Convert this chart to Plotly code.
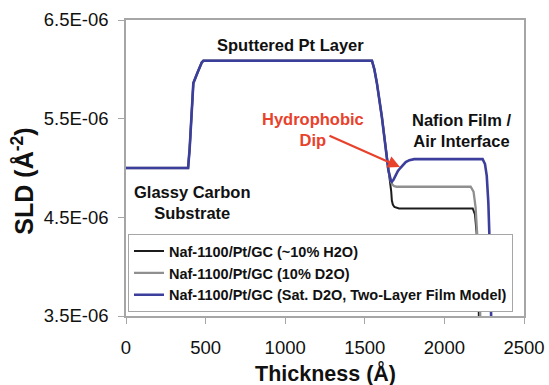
import plotly.graph_objects as go

# ---- data (thickness in Å, SLD in units of 1e-6 Å^-2) ----
thick_h2o = [0, 390, 400, 413, 423, 450, 476, 486, 1545, 1560, 1576, 1607, 1635, 1648, 1660,
             1666, 1670, 1676, 1686, 1700, 1715, 2178, 2192, 2202, 2209, 2214, 2217, 2220]
sld_h2o = [5.00, 5.00, 5.20, 5.52, 5.86, 5.97, 6.07, 6.087, 6.087, 6.00, 5.86, 5.52, 5.18, 4.98, 4.88,
           4.76, 4.67, 4.63, 4.605, 4.595, 4.59, 4.59, 4.53, 4.35, 4.05, 3.70, 3.45, 3.30]

thick_d2o = [0, 390, 400, 413, 423, 450, 476, 486, 1545, 1560, 1576, 1607, 1635, 1648, 1664,
             1672, 1685, 1700, 2165, 2183, 2196, 2207, 2216, 2224, 2230]
sld_d2o = [5.00, 5.00, 5.20, 5.52, 5.86, 5.97, 6.07, 6.087, 6.087, 6.00, 5.86, 5.52, 5.18, 4.98, 4.86,
           4.835, 4.815, 4.81, 4.81, 4.76, 4.60, 4.30, 3.90, 3.55, 3.30]

thick_sat = [0, 390, 400, 413, 423, 450, 476, 486, 1545, 1560, 1576, 1607, 1635, 1648, 1664,
             1670, 1680, 1692, 1708, 1723, 1740, 1757, 1780, 1810, 2240, 2255, 2266, 2276, 2284, 2290, 2296]
sld_sat = [5.00, 5.00, 5.20, 5.52, 5.86, 5.97, 6.07, 6.087, 6.087, 6.00, 5.86, 5.52, 5.18, 4.98, 4.87,
           4.86, 4.88, 4.92, 4.97, 5.00, 5.03, 5.06, 5.08, 5.09, 5.09, 5.04, 4.92, 4.65, 4.25, 3.80, 3.30]

series_names = ["Naf-1100/Pt/GC (~10% H2O)",
                "Naf-1100/Pt/GC (10% D2O)",
                "Naf-1100/Pt/GC (Sat. D2O, Two-Layer Film Model)"]

x_tick_vals = [0, 500, 1000, 1500, 2000, 2500]
x_tick_labels = ["0", "500", "1000", "1500", "2000", "2500"]
y_tick_vals = [3.5e-6, 4.5e-6, 5.5e-6, 6.5e-6]
y_tick_labels = ["3.5E-06", "4.5E-06", "5.5E-06", "6.5E-06"]

FONT = "Liberation Sans, Arial, sans-serif"
AX = "#a6a6a6"

fig = go.Figure()
for xs, ys, name, col, w in [
    (thick_h2o, sld_h2o, series_names[0], "#1c1c1c", 2.0),
    (thick_d2o, sld_d2o, series_names[1], "#8f8f8f", 2.3),
    (thick_sat, sld_sat, series_names[2], "#3b3f9b", 2.6),
]:
    fig.add_trace(go.Scatter(x=xs, y=[v * 1e-6 for v in ys], mode="lines", name=name,
                             line=dict(color=col, width=w)))

ann_font = dict(family=FONT, size=16.5, color="#111111", weight="bold")
fig.add_annotation(x=1033, y=6.25e-6, text="Sputtered Pt Layer", showarrow=False, font=ann_font)
fig.add_annotation(x=2110, y=5.385e-6, text="Nafion Film /<br>Air Interface", showarrow=False, font=ann_font)
fig.add_annotation(x=415, y=4.655e-6, text="Glassy Carbon<br>Substrate", showarrow=False, font=ann_font)
fig.add_annotation(x=1175, y=5.395e-6, text="Hydrophobic<br>Dip", showarrow=False,
                   font=dict(family=FONT, size=16.5, color="#e8412c", weight="bold"))
fig.add_annotation(x=1721, y=5.01e-6, text="", showarrow=True, ax=-72, ay=-32,
                   arrowcolor="#e8412c", arrowwidth=2.2, arrowhead=2, arrowsize=1.1)
# axis titles
fig.add_annotation(xref="paper", yref="paper", x=-0.258, y=0.455, xanchor="center", yanchor="middle",
                   text="SLD (Å<sup>-2</sup>)", textangle=-90, showarrow=False,
                   font=dict(family=FONT, size=25, color="#111111", weight="bold"))
fig.add_annotation(xref="paper", yref="paper", x=0.5, y=-0.192, xanchor="center", yanchor="middle",
                   text="Thickness (Å)", showarrow=False,
                   font=dict(family=FONT, size=21.5, color="#111111", weight="bold"))

fig.update_layout(
    width=549, height=385,
    margin=dict(l=126, r=25, t=20, b=69),
    paper_bgcolor="white", plot_bgcolor="white",
    font=dict(family=FONT, color="#111111"),
    showlegend=True,
    legend=dict(x=0.005, y=0.013, xanchor="left", yanchor="bottom",
                bgcolor="white", bordercolor=AX, borderwidth=1,
                font=dict(family=FONT, size=14.5, color="#111111", weight="bold"),
                tracegroupgap=0),
)
fig.update_xaxes(range=[0, 2500], tickvals=x_tick_vals, ticktext=x_tick_labels, automargin=False,
                 showgrid=False, zeroline=False, showline=True, linecolor=AX, linewidth=1.5,
                 mirror=True, ticks="outside", ticklen=6, tickcolor=AX, ticklabelstandoff=8,
                 tickfont=dict(family=FONT, size=18.5, color="#111111"))
fig.update_yaxes(range=[3.5e-6, 6.5e-6], tickvals=y_tick_vals, ticktext=y_tick_labels, automargin=False,
                 showgrid=False, zeroline=False, showline=True, linecolor=AX, linewidth=1.5,
                 mirror=True, ticks="outside", ticklen=6, tickcolor=AX, ticklabelstandoff=6,
                 tickfont=dict(family=FONT, size=18.5, color="#111111"))

fig.write_html("out.html")
